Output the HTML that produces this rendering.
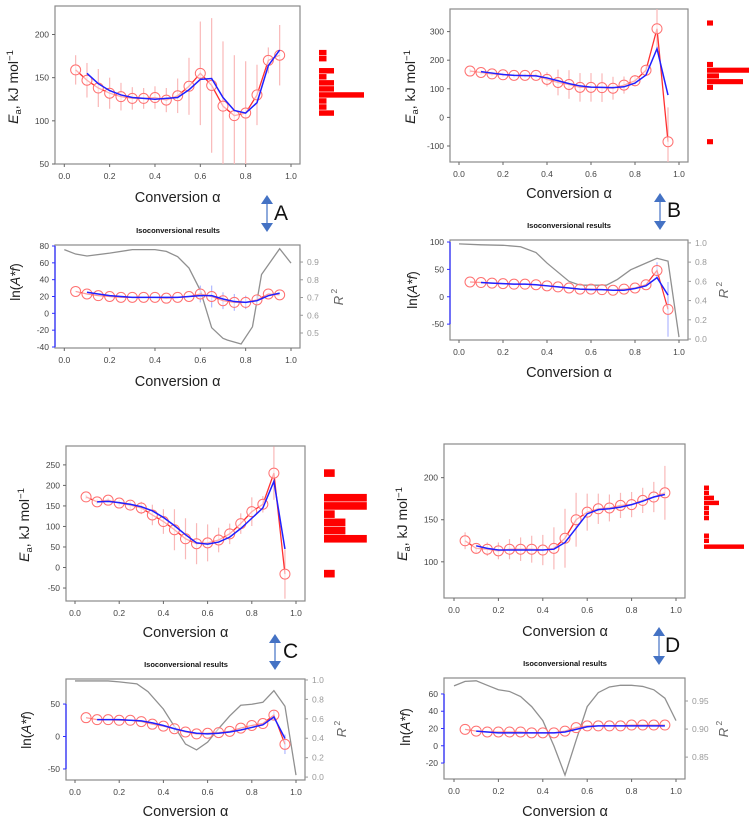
<!DOCTYPE html>
<html><head><meta charset="utf-8"><style>
body{margin:0;background:#fff;}
svg{display:block;font-family:"Liberation Sans","DejaVu Sans",sans-serif;}
</style></head><body>
<svg id="fig" width="754" height="824" viewBox="0 0 754 824" xmlns="http://www.w3.org/2000/svg"></svg>
<script>
const alphas=[0.05,0.1,0.15,0.2,0.25,0.3,0.35,0.4,0.45,0.5,0.55,0.6,0.65,0.7,0.75,0.8,0.85,0.9,0.95];
const lineAlphas=[0.1,0.15,0.2,0.25,0.3,0.35,0.4,0.45,0.5,0.55,0.6,0.65,0.7,0.75,0.8,0.85,0.9,0.95];
const xTicks=[0,0.2,0.4,0.6,0.8,1.0];
const xTickLabels=["0.0","0.2","0.4","0.6","0.8","1.0"];

// Panel A
const aEa=[159,147,138,132,128,126,126,127,124,129,140,155,141,117,106,109,130,170,176];
const aEaLine=[155,143,135,130,127,126,125,126,127,136,148,149,127,112,109,121,164,182];
const aEaErr=[17,20,22,18,16,13,12,13,14,20,33,60,78,75,70,60,35,15,35];
const aHistCenters=[179,172,165,158,151,144,137,130,123,116,109];
const aHistCounts=[1,1,0,2,1,2,2,6,1,1,2];
const aLnA=[26,23,21,20,19,19,19,19,18,19,20,23,20,15,13,13,16,23,22];
const aLnALine=[25,23,21,20,19,19,19,19,19,20,21,21,17,14,13,15,21,24];
const aLnAErr=[0,0,0,0,0,0,0,0,0,0,0,10,13,10,10,8,5,0,0];
const aR2X=[0,0.05,0.1,0.2,0.3,0.4,0.45,0.5,0.55,0.6,0.65,0.7,0.72,0.78,0.83,0.87,0.95,1.0];
const aR2=[0.97,0.945,0.934,0.95,0.97,0.97,0.96,0.93,0.866,0.74,0.53,0.47,0.46,0.438,0.535,0.83,0.975,0.894];

// Panel B
const bEa=[162,157,152,149,147,147,147,133,122,115,105,105,104,102,113,128,165,310,-85];
const bEaLine=[160,155,150,147,146,145,138,128,118,110,106,105,104,107,120,148,240,78];
const bEaErr=[8,8,8,8,8,8,10,25,45,50,50,50,50,40,30,20,20,80,120];
const bHistCenters=[330,185,165,145,125,105,-85];
const bHistCounts=[1,1,7,2,6,1,1];
const bLnA=[27,26,25,24,23,23,22,20,18,16,14,14,13,12,14,16,22,48,-23];
const bLnALine=[26,25,24,23,23,22,20,18,16,14,13,13,12,12,15,20,35,3];
const bLnAErr=[0,0,0,0,0,0,0,0,0,0,0,0,0,0,0,0,0,15,50];
const bR2X=[0,0.1,0.2,0.28,0.35,0.4,0.5,0.55,0.6,0.67,0.72,0.78,0.9,0.95,1.0];
const bR2=[0.99,0.98,0.975,0.96,0.9,0.79,0.6,0.56,0.56,0.56,0.62,0.72,0.84,0.81,0.02];

// Panel C
const cEa=[172,160,164,157,152,145,128,112,92,70,58,60,67,82,107,136,154,230,-16];
const cEaLine=[160,161,158,154,148,138,122,102,80,60,57,62,74,95,120,145,210,45];
const cEaErr=[5,6,6,8,10,15,25,30,50,50,50,45,30,25,25,35,20,65,60];
const cHistCenters=[230,170,150,130,110,90,70,-15];
const cHistCounts=[1,4,4,1,2,2,4,1];
const cLnA=[29,26,26,25,25,23,19,16,12,7,4,5,6,8,13,17,20,33,-12];
const cLnALine=[26,26,26,25,24,21,17,12,8,5,4,5,7,10,14,18,30,-3];
const cLnAErr=[0,0,0,0,0,0,0,0,5,0,0,0,0,0,0,0,0,8,15];
const cR2X=[0,0.15,0.2,0.28,0.33,0.4,0.45,0.5,0.55,0.6,0.65,0.7,0.75,0.8,0.85,0.9,0.95,1.0];
const cR2=[0.99,0.99,0.98,0.96,0.88,0.7,0.52,0.34,0.28,0.36,0.5,0.63,0.74,0.75,0.77,0.89,0.73,0.02];

// Panel D
const dEa=[125,116,115,113,115,115,115,114,116,128,150,159,163,164,167,168,173,177,182];
const dEaLine=[119,116,114,114,114,114,114,115,123,140,157,162,163,165,168,172,177,180];
const dEaErr=[10,6,8,10,12,14,16,18,25,35,32,22,18,16,15,15,15,18,32];
const dHistCenters=[188,182,176,170,164,158,152,131,125,118];
const dHistCounts=[1,1,2,3,1,1,1,1,1,8];
const dLnA=[19,17,16,16,16,16,15,15,15,17,21,23,23,23,23,24,24,24,24];
const dLnALine=[17,16,15,15,15,15,15,15,16,19,22,23,23,23,23,23,23,23];
const dLnAErr=[0,0,0,0,0,0,0,0,0,0,0,0,0,0,0,0,0,0,0];
const dR2X=[0,0.05,0.1,0.15,0.2,0.25,0.3,0.35,0.4,0.45,0.5,0.55,0.6,0.65,0.7,0.75,0.8,0.85,0.9,0.95,1.0];
const dR2=[0.977,0.985,0.986,0.978,0.97,0.967,0.958,0.94,0.915,0.87,0.818,0.88,0.94,0.965,0.975,0.978,0.978,0.976,0.97,0.955,0.915];

const NS="http://www.w3.org/2000/svg";
const fig=document.getElementById('fig');
function el(tag,attrs,parent,text){const e=document.createElementNS(NS,tag);for(const k in attrs)e.setAttribute(k,attrs[k]);if(text!==undefined)e.textContent=text;(parent||fig).appendChild(e);return e;}
function lin(d0,d1,p0,p1){return v=>p0+(v-d0)*(p1-p0)/(d1-d0);}

function drawTop(p){
  const g=el('g',{});
  
  
  const X=lin(0,1,p.x0px,p.x1px), Y=lin(p.ymin,p.ymax,p.fb,p.ft);
  const fr=el('rect',{x:p.fl,y:p.ft,width:p.fr-p.fl,height:p.fb-p.ft,fill:'none',stroke:'#8a8a8a','stroke-width':1.2},g);
  
  const clip=el('clipPath',{id:'clip'+p.id},g);el('rect',{x:p.fl,y:p.ft,width:p.fr-p.fl,height:p.fb-p.ft},clip);
  const inner=el('g',{'clip-path':'url(#clip'+p.id+')'},g);
  p.err.forEach((e,i)=>{const l=el('line',{x1:X(alphas[i]),x2:X(alphas[i]),y1:Y(p.vals[i]-e),y2:Y(p.vals[i]+e),stroke:'#f9b8b8','stroke-width':1.2},inner);
    });
  const rl=el('polyline',{points:alphas.map((a,i)=>X(a)+','+Y(p.vals[i])).join(' '),fill:'none',stroke:'#ff3030','stroke-width':1.3},inner);
  
  alphas.forEach((a,i)=>{const c=el('circle',{cx:X(a),cy:Y(p.vals[i]),r:5,fill:'#fff','fill-opacity':0.6,stroke:'#ff7070','stroke-width':1},inner);
    });
  const bl=el('polyline',{points:lineAlphas.map((a,i)=>X(a)+','+Y(p.line[i])).join(' '),fill:'none',stroke:'#2020ff','stroke-width':1.5},inner);
  
  xTicks.forEach((t,i)=>{el('line',{x1:X(t),x2:X(t),y1:p.fb,y2:p.fb+3,stroke:'#666'},g);
    const tx=el('text',{x:X(t),y:p.fb+15,'text-anchor':'middle','font-size':8.5,fill:'#444'},g,xTickLabels[i]);
    });
  p.yticks.forEach(t=>{el('line',{x1:p.fl-3,x2:p.fl,y1:Y(t),y2:Y(t),stroke:'#666'},g);
    const tx=el('text',{x:p.fl-6,y:Y(t)+3,'text-anchor':'end','font-size':8.5,fill:'#444'},g,String(t));
    });
  const xl=el('text',{x:(X(0)+X(1))/2,y:p.xlabY,'text-anchor':'middle','font-size':14.5,fill:'#222'},g,'Conversion  α');
  
  const yl=el('text',{transform:'translate('+p.ylx+','+p.yly+') rotate(-90)','text-anchor':'middle','font-size':14,fill:'#222'},g);
  
  el('tspan',{'font-style':'italic'},yl,'E');el('tspan',{'font-size':9.5,dy:3},yl,'a');el('tspan',{dy:-3},yl,', kJ mol');el('tspan',{'font-size':9.5,dy:-5},yl,'−1');
  const hg=el('g',{},g);
  p.hc.forEach((c,i)=>{if(!p.hn[i])return;const h=p.hbin*(p.fb-p.ft)/(p.ymax-p.ymin);
    const r=el('rect',{x:p.hx,y:Y(c)-h/2+0.3,width:p.hn[i]*p.hunit,height:h-0.6,fill:'#f00'},hg);
    });
}

function drawBottom(p){
  const g=el('g',{});
  
  
  const X=lin(0,1,p.x0px,p.x1px), Y=lin(p.ymin,p.ymax,p.fb,p.ft), R=lin(p.rmin,p.rmax,p.fb,p.ft);
  const t=el('text',{x:p.titleX,y:p.titleY,'text-anchor':'middle','font-size':7.5,'font-weight':'bold',fill:'#111'},g,'Isoconversional results');
  
  el('rect',{x:p.fl,y:p.ft,width:p.fr-p.fl,height:p.fb-p.ft,fill:'none',stroke:'#8a8a8a','stroke-width':1.2},g);
  const clip=el('clipPath',{id:'clipb'+p.id},g);el('rect',{x:p.fl,y:p.ft,width:p.fr-p.fl,height:p.fb-p.ft},clip);
  const inner=el('g',{'clip-path':'url(#clipb'+p.id+')'},g);
  const gl=el('polyline',{points:p.r2x.map((a,i)=>X(a)+','+R(p.r2[i])).join(' '),fill:'none',stroke:'#909090','stroke-width':1.3},inner);
  
  p.err.forEach((e,i)=>{if(!e)return;const l=el('line',{x1:X(alphas[i]),x2:X(alphas[i]),y1:Y(p.vals[i]-e),y2:Y(p.vals[i]+e),stroke:'#b0b8ff','stroke-width':1.2},inner);
    });
  const rl=el('polyline',{points:alphas.map((a,i)=>X(a)+','+Y(p.vals[i])).join(' '),fill:'none',stroke:'#ff3030','stroke-width':1.2},inner);
  
  alphas.forEach((a,i)=>{const c=el('circle',{cx:X(a),cy:Y(p.vals[i]),r:5,fill:'#fff','fill-opacity':0.5,stroke:'#ff7070','stroke-width':1},inner);
    });
  const bl=el('polyline',{points:lineAlphas.map((a,i)=>X(a)+','+Y(p.line[i])).join(' '),fill:'none',stroke:'#2020ff','stroke-width':1.5},inner);
  
  const yt=p.yticks;
  el('line',{x1:p.fl,x2:p.fl,y1:Y(yt[yt.length-1]),y2:Y(yt[0]),stroke:'#3030ff','stroke-width':1.3},g);
  xTicks.forEach((tk,i)=>{el('line',{x1:X(tk),x2:X(tk),y1:p.fb,y2:p.fb+3,stroke:'#666'},g);
    const tx=el('text',{x:X(tk),y:p.fb+15,'text-anchor':'middle','font-size':8.5,fill:'#444'},g,xTickLabels[i]);
    });
  yt.forEach(tk=>{el('line',{x1:p.fl-3,x2:p.fl,y1:Y(tk),y2:Y(tk),stroke:'#3030ff'},g);
    const tx=el('text',{x:p.fl-6,y:Y(tk)+3,'text-anchor':'end','font-size':8.5,fill:'#444'},g,String(tk));
    });
  p.rticks.forEach(tk=>{el('line',{x1:p.fr,x2:p.fr+3,y1:R(tk),y2:R(tk),stroke:'#999'},g);
    const tx=el('text',{x:p.fr+7,y:R(tk)+3,'font-size':8.5,fill:'#999'},g,tk.toFixed(p.rdec));
    });
  const xl=el('text',{x:(X(0)+X(1))/2,y:p.xlabY,'text-anchor':'middle','font-size':14.5,fill:'#222'},g,'Conversion α');
  
  const yl=el('text',{transform:'translate('+p.ylx+','+p.yly+') rotate(-90)','text-anchor':'middle','font-size':13.5,fill:'#222'},g);
  
  el('tspan',{},yl,'ln(');el('tspan',{'font-style':'italic'},yl,'A*f');el('tspan',{},yl,')');
  const rl2=el('text',{transform:'translate('+p.rlx+','+p.rly+') rotate(-90)','text-anchor':'middle','font-size':13,fill:'#666'},g);
  
  el('tspan',{'font-style':'italic'},rl2,'R');el('tspan',{'font-size':8.5,dy:-6},rl2,' 2');
}

function drawArrow(x,y0,y1,label,lx,ly){
  const g=el('g',{});
  el('line',{x1:x,x2:x,y1:y0+6,y2:y1-6,stroke:'#4472c4','stroke-width':1.2},g);
  el('polygon',{points:(x-6)+','+(y0+9)+' '+(x+6)+','+(y0+9)+' '+x+','+y0,fill:'#4472c4'},g);
  el('polygon',{points:(x-6)+','+(y1-9)+' '+(x+6)+','+(y1-9)+' '+x+','+y1,fill:'#4472c4'},g);
  el('text',{x:lx,y:ly+7,'font-size':21,fill:'#111'},g,label);
}

drawTop({id:'a',fl:55,fr:300,ft:6,fb:164,x0px:64.3,x1px:291,ymin:50,ymax:233,yticks:[50,100,150,200],vals:aEa,line:aEaLine,err:aEaErr,hc:aHistCenters,hn:aHistCounts,hbin:7,hunit:7.5,hx:319,xlabY:202,ylx:18,yly:87});
drawTop({id:'b',fl:450,fr:688,ft:9,fb:162,x0px:459,x1px:679,ymin:-156,ymax:379,yticks:[-100,0,100,200,300],vals:bEa,line:bEaLine,err:bEaErr,hc:bHistCenters,hn:bHistCounts,hbin:20,hunit:6,hx:707,xlabY:198,ylx:415,yly:87});
drawTop({id:'c',fl:66,fr:305,ft:446,fb:601,x0px:75,x1px:296,ymin:-81.6,ymax:296,yticks:[-50,0,50,100,150,200,250],vals:cEa,line:cEaLine,err:cEaErr,hc:cHistCenters,hn:cHistCounts,hbin:20,hunit:10.7,hx:324,xlabY:637,ylx:29,yly:525});
drawTop({id:'d',fl:444,fr:685,ft:444,fb:598,x0px:454,x1px:676,ymin:57,ymax:240,yticks:[100,150,200],vals:dEa,line:dEaLine,err:dEaErr,hc:dHistCenters,hn:dHistCounts,hbin:6,hunit:5,hx:704,xlabY:636,ylx:407,yly:524});

drawBottom({id:'a',fl:55,fr:300,ft:245,fb:348,x0px:64.3,x1px:291,ymin:-41.2,ymax:81.2,rmin:0.4155,rmax:0.996,yticks:[-40,-20,0,20,40,60,80],rticks:[0.5,0.6,0.7,0.8,0.9],rdec:1,vals:aLnA,line:aLnALine,err:aLnAErr,r2x:aR2X,r2:aR2,titleX:178,titleY:233,xlabY:386,ylx:20,yly:282,rlx:343,rly:297});
drawBottom({id:'b',fl:450,fr:688,ft:240,fb:340,x0px:459,x1px:679,ymin:-79,ymax:103.7,rmin:-0.01,rmax:1.03,yticks:[-50,0,50,100],rticks:[0,0.2,0.4,0.6,0.8,1.0],rdec:1,vals:bLnA,line:bLnALine,err:bLnAErr,r2x:bR2X,r2:bR2,titleX:569,titleY:228,xlabY:377,ylx:417,yly:290,rlx:728,rly:290});
drawBottom({id:'c',fl:66,fr:305,ft:679,fb:780,x0px:75,x1px:296,ymin:-67,ymax:88.6,rmin:-0.03,rmax:1.01,yticks:[-50,0,50],rticks:[0,0.2,0.4,0.6,0.8,1.0],rdec:1,vals:cLnA,line:cLnALine,err:cLnAErr,r2x:cR2X,r2:cR2,titleX:186,titleY:667,xlabY:816,ylx:31,yly:730,rlx:346,rly:729});
drawBottom({id:'d',fl:444,fr:685,ft:678,fb:779,x0px:454,x1px:676,ymin:-38.5,ymax:78.5,rmin:0.811,rmax:0.991,yticks:[-20,0,20,40,60],rticks:[0.85,0.9,0.95],rdec:2,vals:dLnA,line:dLnALine,err:dLnAErr,r2x:dR2X,r2:dR2,titleX:565,titleY:666,xlabY:816,ylx:410,yly:727,rlx:728,rly:729});

drawArrow(267,195,232,'A',274,213);
drawArrow(660,193,230,'B',667,210);
drawArrow(275,634,670,'C',283,651);
drawArrow(659,627,665,'D',665,645);
</script>
</body></html>
